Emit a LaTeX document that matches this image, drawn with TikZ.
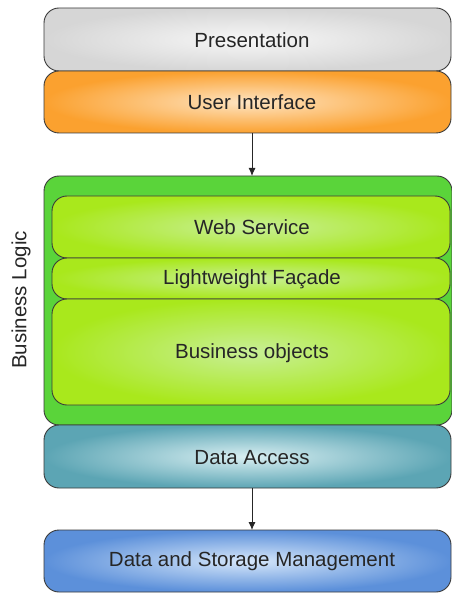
\documentclass[tikz,border=0pt]{standalone}
\usepackage{fontspec}
\setmainfont{Liberation Sans}
\usetikzlibrary{arrows.meta}
\definecolor{grayE}{HTML}{D6D6D6}
\definecolor{grayC}{HTML}{F7F7F7}
\definecolor{orE}{HTML}{FBA12F}
\definecolor{orC}{HTML}{FEE4C2}
\definecolor{grOut}{HTML}{5AD43A}
\definecolor{lgE}{HTML}{A9E81C}
\definecolor{lgC}{HTML}{C8EF96}
\definecolor{tlE}{HTML}{5CA5B4}
\definecolor{tlC}{HTML}{D9EFF2}
\definecolor{blE}{HTML}{5C90DA}
\definecolor{blC}{HTML}{D6E7FA}
\definecolor{edge}{HTML}{3A3A3A}
\begin{document}
\begin{tikzpicture}[x=1pt,y=-1pt,
  layer/.style={draw=edge,line width=0.9pt,rounded corners=15pt,shading=radial},
  lbl/.style={font=\fontsize{20.5}{24}\selectfont,text=black!85,yshift=-1.5pt},
  conn/.style={draw=black!85,line width=0.9pt,-{Latex[length=8pt,width=7pt]}}]
\useasboundingbox (0,0) rectangle (451,593);
\path[layer,inner color=grayC,outer color=grayE] (44,8) rectangle (451,71);
\node[lbl] (pres) at (252,39) {Presentation};
\path[layer,inner color=orC,outer color=orE] (44,71) rectangle (451,133);
\node[lbl] (ui) at (252,101) {User Interface};
\coordinate (uiB) at (252,133);
\draw[draw=edge,line width=0.9pt,rounded corners=15pt,fill=grOut] (44,176) rectangle (452,425);
\coordinate (blT) at (252,176);
\path[layer,inner color=lgC,outer color=lgE] (52,196) rectangle (450,258);
\node[lbl] (ws) at (252,226) {Web Service};
\path[layer,inner color=lgC,outer color=lgE] (52,258) rectangle (450,299);
\node[lbl] (lf) at (252,278) {Lightweight Façade};
\path[layer,inner color=lgC,outer color=lgE] (52,299) rectangle (450,405);
\node[lbl] (bo) at (252,352) {Business objects};
\node[font=\fontsize{20.5}{24}\selectfont,text=black!85,rotate=90] (bl) at (21,300) {Business Logic};
\path[layer,inner color=tlC,outer color=tlE] (44,425) rectangle (451,488);
\node[lbl] (da) at (252,456) {Data Access};
\coordinate (daB) at (252,488);
\path[layer,inner color=blC,outer color=blE] (44,530) rectangle (451,592);
\node[lbl] (dsm) at (252,560) {Data and Storage Management};
\coordinate (dsmT) at (252,530);
\draw[conn] (uiB) -- (blT);
\draw[conn] (daB) -- (dsmT);
\end{tikzpicture}
\end{document}
